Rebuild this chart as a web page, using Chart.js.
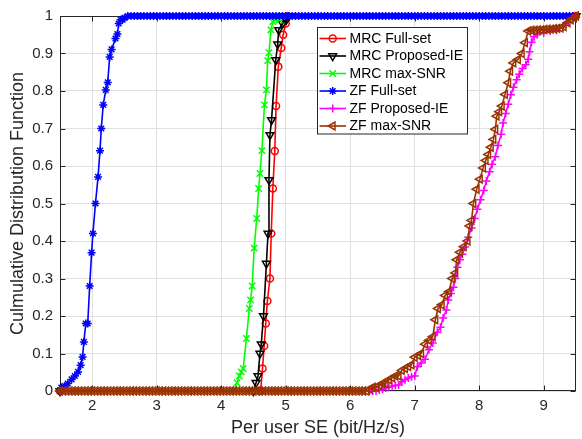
<!DOCTYPE html>
<html><head><meta charset="utf-8">
<script src="https://cdn.jsdelivr.net/npm/chart.js@4"></script>
<style>html,body{margin:0;padding:0;background:#fff;overflow:hidden}#wrap{width:582px;height:439px}</style>
</head><body><div id="wrap"><canvas id="c" width="582" height="439"></canvas></div>
<script>
const seriesNames = ['MRC Full-set','MRC Proposed-IE','MRC max-SNR','ZF Full-set','ZF Proposed-IE','ZF max-SNR'];
const xTicks = [2,3,4,5,6,7,8,9];
const yTicks = [0,0.1,0.2,0.3,0.4,0.5,0.6,0.7,0.8,0.9,1];

const mrcFullX = [1.5,4.61,4.64,4.665,4.69,4.715,4.755,4.775,4.80,4.83,4.85,4.885,4.93,4.96,5.0,5.03,9.5];
const mrcFullY = [0,0,0.06,0.12,0.18,0.24,0.30,0.42,0.54,0.64,0.76,0.865,0.915,0.95,0.98,1,1];

const mrcPropX = [1.5,4.50,4.54,4.57,4.60,4.62,4.655,4.70,4.725,4.74,4.755,4.78,4.845,4.875,4.89,4.95,5.01,5.05,9.5];
const mrcPropY = [0,0,0.022,0.04,0.10,0.125,0.20,0.34,0.42,0.563,0.683,0.723,0.883,0.925,0.963,0.98,0.99,1,1];

const mrcMaxX = [1.5,4.20,4.245,4.28,4.31,4.34,4.39,4.435,4.455,4.48,4.51,4.55,4.58,4.60,4.63,4.67,4.70,4.72,4.74,4.77,4.80,4.84,4.90,4.95,9.5];
const mrcMaxY = [0,0,0.022,0.04,0.051,0.06,0.14,0.22,0.243,0.28,0.381,0.46,0.54,0.58,0.641,0.763,0.803,0.881,0.902,0.963,0.985,0.99,0.99,1,1];

const zfFullRiseX = [1.5,1.52,1.57,1.62,1.68,1.73,1.78,1.82,1.85,1.87,
1.90,1.93,1.96,1.99,2.01,2.05,2.09,2.12,2.14,2.17,
2.21,2.24,2.27,2.30,2.36,2.39,2.41,2.44,2.47,2.50];
const zfFullRiseY = [0,0.009,0.013,0.02,0.031,0.04,0.051,0.069,0.091,0.131,
0.18,0.18,0.28,0.369,0.42,0.50,0.571,0.641,0.70,0.763,
0.803,0.823,0.891,0.911,0.94,0.952,0.98,0.99,0.99,0.995];
const zfFullTopX = [2.55,2.6,2.65,2.7,2.75,2.8,2.85,2.9,2.95,
3,3.05,3.1,3.15,3.2,3.25,3.3,3.35,3.4,3.45,
3.5,3.55,3.6,3.65,3.7,3.75,3.8,3.85,3.9,3.95,
4,4.05,4.1,4.15,4.2,4.25,4.3,4.35,4.4,4.45,
4.5,4.55,4.6,4.65,4.7,4.75,4.8,4.85,4.9,4.95,
5,5.05,5.1,5.15,5.2,5.25,5.3,5.35,5.4,5.45,
5.5,5.55,5.6,5.65,5.7,5.75,5.8,5.85,5.9,5.95,
6,6.05,6.1,6.15,6.2,6.25,6.3,6.35,6.4,6.45,
6.5,6.55,6.6,6.65,6.7,6.75,6.8,6.85,6.9,6.95,
7,7.05,7.1,7.15,7.2,7.25,7.3,7.35,7.4,7.45,
7.5,7.55,7.6,7.65,7.7,7.75,7.8,7.85,7.9,7.95,
8,8.05,8.1,8.15,8.2,8.25,8.3,8.35,8.4,8.45,
8.5,8.55,8.6,8.65,8.7,8.75,8.8,8.85,8.9,8.95,
9,9.05,9.1,9.15,9.2,9.25,9.3,9.35,9.4,9.45,
9.5];
const zfFullTopY = [1,1,1,1,1,1,1,1,1,
1,1,1,1,1,1,1,1,1,1,
1,1,1,1,1,1,1,1,1,1,
1,1,1,1,1,1,1,1,1,1,
1,1,1,1,1,1,1,1,1,1,
1,1,1,1,1,1,1,1,1,1,
1,1,1,1,1,1,1,1,1,1,
1,1,1,1,1,1,1,1,1,1,
1,1,1,1,1,1,1,1,1,1,
1,1,1,1,1,1,1,1,1,1,
1,1,1,1,1,1,1,1,1,1,
1,1,1,1,1,1,1,1,1,1,
1,1,1,1,1,1,1,1,1,1,
1,1,1,1,1,1,1,1,1,1,
1];

const zfPropX = [1.5,6.30,6.35,6.40,6.45,6.50,6.55,6.60,6.65,6.70,
6.75,6.80,6.85,6.90,6.95,7.00,7.04,7.10,7.16,7.22,
7.28,7.35,7.40,7.44,7.49,7.52,7.56,7.60,7.63,7.66,
7.70,7.74,7.78,7.83,7.88,7.93,7.97,8.02,8.07,8.11,
8.16,8.20,8.25,8.29,8.34,8.37,8.41,8.45,8.49,8.53,
8.58,8.62,8.67,8.72,8.76,8.78,8.81,8.85,8.90,9.00,
9.10,9.20,9.30,9.38,9.45,9.50];
const zfPropY = [0,0,0,0,0.003,0.005,0.008,0.01,0.013,0.015,
0.016,0.025,0.03,0.035,0.038,0.04,0.065,0.075,0.085,0.11,
0.128,0.157,0.17,0.195,0.216,0.243,0.26,0.277,0.30,0.33,
0.35,0.365,0.384,0.41,0.435,0.46,0.485,0.51,0.535,0.56,
0.585,0.605,0.625,0.655,0.685,0.715,0.74,0.765,0.79,0.81,
0.83,0.845,0.86,0.87,0.885,0.905,0.93,0.945,0.95,0.955,
0.96,0.962,0.97,0.985,0.995,1];

const zfMaxBottomX = [1.5,1.55,1.6,1.65,1.7,1.75,1.8,1.85,1.9,1.95,
2,2.05,2.1,2.15,2.2,2.25,2.3,2.35,2.4,2.45,
2.5,2.55,2.6,2.65,2.7,2.75,2.8,2.85,2.9,2.95,
3,3.05,3.1,3.15,3.2,3.25,3.3,3.35,3.4,3.45,
3.5,3.55,3.6,3.65,3.7,3.75,3.8,3.85,3.9,3.95,
4,4.05,4.1,4.15,4.2,4.25,4.3,4.35,4.4,4.45,
4.5,4.55,4.6,4.65,4.7,4.75,4.8,4.85,4.9,4.95,
5,5.05,5.1,5.15,5.2,5.25,5.3,5.35,5.4,5.45,
5.5,5.55,5.6,5.65,5.7,5.75,5.8,5.85,5.9,5.95,
6,6.05,6.1,6.15,6.2,6.25];
const zfMaxBottomY = [0,0,0,0,0,0,0,0,0,0,
0,0,0,0,0,0,0,0,0,0,
0,0,0,0,0,0,0,0,0,0,
0,0,0,0,0,0,0,0,0,0,
0,0,0,0,0,0,0,0,0,0,
0,0,0,0,0,0,0,0,0,0,
0,0,0,0,0,0,0,0,0,0,
0,0,0,0,0,0,0,0,0,0,
0,0,0,0,0,0,0,0,0,0,
0,0,0,0,0,0];
const zfMaxRiseX = [6.30,6.35,6.40,6.45,6.50,6.55,6.60,6.65,6.70,6.75,
6.80,6.85,6.90,6.95,7.00,7.05,7.10,7.16,7.22,7.28,
7.32,7.36,7.42,7.47,7.53,7.58,7.63,7.65,7.70,7.76,
7.82,7.85,7.88,7.91,7.96,8.01,8.06,8.10,8.14,8.18,
8.22,8.25,8.27,8.31,8.35,8.40,8.45,8.48,8.53,8.60,
8.66,8.71,8.76,8.81,8.86,8.91,8.96,9.01,9.06,9.11,
9.16,9.21,9.26,9.31,9.37,9.42,9.47,9.50];
const zfMaxRiseY = [0.005,0.01,0.01,0.015,0.02,0.02,0.03,0.035,0.04,0.04,
0.055,0.06,0.065,0.07,0.09,0.095,0.10,0.125,0.135,0.145,
0.19,0.22,0.23,0.255,0.265,0.30,0.315,0.35,0.37,0.385,
0.40,0.44,0.455,0.50,0.538,0.565,0.595,0.615,0.631,0.65,
0.671,0.698,0.733,0.745,0.76,0.791,0.822,0.853,0.875,0.884,
0.90,0.929,0.96,0.962,0.962,0.963,0.963,0.964,0.965,0.965,
0.966,0.967,0.968,0.972,0.982,0.99,0.995,1];

const FONT = '"Liberation Sans", Arial, Helvetica, sans-serif';
Chart.defaults.font.family = FONT;

function pts(X, Y){ return X.map((x,i)=>({x:x, y:Y[i]})); }
function mk(label, data, color, style, r, rot, order){
  return {label, data, borderColor:color, backgroundColor:color, borderWidth:1.6,
    pointStyle:style, pointRadius:r, pointHoverRadius:r, pointRotation:rot,
    pointBorderColor:color, pointBackgroundColor:'rgba(0,0,0,0)', pointBorderWidth:1.5,
    clip:false, order, fill:false, tension:0};
}

function drawMark(ctx, style, x, y, r, rot){
  ctx.beginPath();
  if (style==='circle'){ ctx.arc(x,y,r,0,Math.PI*2); }
  else if (style==='triangle'){
    let a = rot*Math.PI/180;
    ctx.moveTo(x+Math.sin(a)*r, y-Math.cos(a)*r); a+=2*Math.PI/3;
    ctx.lineTo(x+Math.sin(a)*r, y-Math.cos(a)*r); a+=2*Math.PI/3;
    ctx.lineTo(x+Math.sin(a)*r, y-Math.cos(a)*r); ctx.closePath();
  } else {
    const d = r*Math.SQRT1_2;
    if (style==='cross'||style==='star'){ ctx.moveTo(x-r,y); ctx.lineTo(x+r,y); ctx.moveTo(x,y-r); ctx.lineTo(x,y+r); }
    if (style==='crossRot'||style==='star'){ ctx.moveTo(x-d,y-d); ctx.lineTo(x+d,y+d); ctx.moveTo(x+d,y-d); ctx.lineTo(x-d,y+d); }
  }
  ctx.stroke();
}

const axesPlugin = {
  id:'matlabAxes',
  beforeDatasetsDraw(chart){
    const {ctx, chartArea:a, scales} = chart;
    const L=Math.round(a.left)+0.5, R=Math.round(a.right)-0.5, T=Math.round(a.top)+0.5, B=Math.round(a.bottom)-0.5;
    ctx.save();
    ctx.strokeStyle='#262626'; ctx.lineWidth=1;
    ctx.strokeRect(L,T,R-L,B-T);
    ctx.beginPath();
    xTicks.forEach(v=>{ const p=Math.round(scales.x.getPixelForValue(v))+0.5; ctx.moveTo(p,B); ctx.lineTo(p,B-5); ctx.moveTo(p,T); ctx.lineTo(p,T+5); });
    yTicks.forEach(v=>{ const p=Math.round(scales.y.getPixelForValue(v))+0.5; ctx.moveTo(L,p); ctx.lineTo(L+5,p); ctx.moveTo(R,p); ctx.lineTo(R-5,p); });
    ctx.stroke();
    ctx.restore();
  }
};

const legendPlugin = {
  id:'matlabLegend',
  afterDraw(chart){
    const ctx = chart.ctx;
    ctx.save();
    ctx.fillStyle='#fff'; ctx.fillRect(317.5,27.5,150,106.5);
    ctx.strokeStyle='#262626'; ctx.lineWidth=1; ctx.strokeRect(317.5,27.5,150,106.5);
    ctx.font='14px '+FONT; ctx.textBaseline='middle'; ctx.textAlign='left';
    chart.data.datasets.forEach((ds,i)=>{
      const y = 38.5 + i*17.5;
      ctx.strokeStyle=ds.borderColor; ctx.lineWidth=ds.borderWidth;
      ctx.beginPath(); ctx.moveTo(319.5,y); ctx.lineTo(346,y); ctx.stroke();
      ctx.lineWidth=ds.pointBorderWidth;
      drawMark(ctx, ds.pointStyle, 332.7, y, ds.pointRadius, ds.pointRotation||0);
      ctx.fillStyle='#000'; ctx.fillText(ds.label, 349.5, y+0.5);
    });
    ctx.restore();
  }
};

new Chart(document.getElementById('c'), {
  type:'line',
  data:{datasets:[
    mk(seriesNames[0], pts(mrcFullX, mrcFullY), '#ff0000', 'circle', 3.5, 0, 5),
    mk(seriesNames[1], pts(mrcPropX, mrcPropY), '#000000', 'triangle', 4.5, 180, 4),
    mk(seriesNames[2], pts(mrcMaxX, mrcMaxY), '#00ff00', 'crossRot', 4.5, 0, 3),
    mk(seriesNames[3], pts(zfFullRiseX.concat(zfFullTopX), zfFullRiseY.concat(zfFullTopY)), '#0000ff', 'star', 4, 0, 2),
    mk(seriesNames[4], pts(zfPropX, zfPropY), '#ff00ff', 'cross', 4, 0, 1),
    mk(seriesNames[5], pts(zfMaxBottomX.concat(zfMaxRiseX), zfMaxBottomY.concat(zfMaxRiseY)), '#993300', 'triangle', 4.5, 270, 0)
  ]},
  options:{
    responsive:false, animation:false, devicePixelRatio:1,
    layout:{padding:{top:15,right:2,left:0,bottom:0}},
    plugins:{legend:{display:false}, tooltip:{enabled:false}},
    events:[],
    scales:{
      x:{type:'linear', min:1.5, max:9.5,
        afterBuildTicks:s=>{ s.ticks = xTicks.map(v=>({value:v})); },
        afterFit:s=>{ s.height = 48; },
        grid:{color:'#dfdfdf', drawTicks:false},
        border:{display:false},
        ticks:{padding:6, color:'#262626', font:{size:15}, maxRotation:0, callback:v=>String(v)},
        title:{display:true, text:'Per user SE (bit/Hz/s)', color:'#262626', font:{size:18}, padding:{top:0,bottom:0}}
      },
      y:{type:'linear', min:0, max:1,
        afterBuildTicks:s=>{ s.ticks = yTicks.map(v=>({value:v})); },
        afterFit:s=>{ s.width = 60; },
        grid:{color:'#dfdfdf', drawTicks:false},
        border:{display:false},
        ticks:{padding:7, color:'#262626', font:{size:15}, callback:v=>String(v)},
        title:{display:true, text:'Culmulative Distribution Function', color:'#262626', font:{size:18}, padding:{top:7,bottom:0}}
      }
    }
  },
  plugins:[axesPlugin, legendPlugin]
});
</script>
</body></html>
